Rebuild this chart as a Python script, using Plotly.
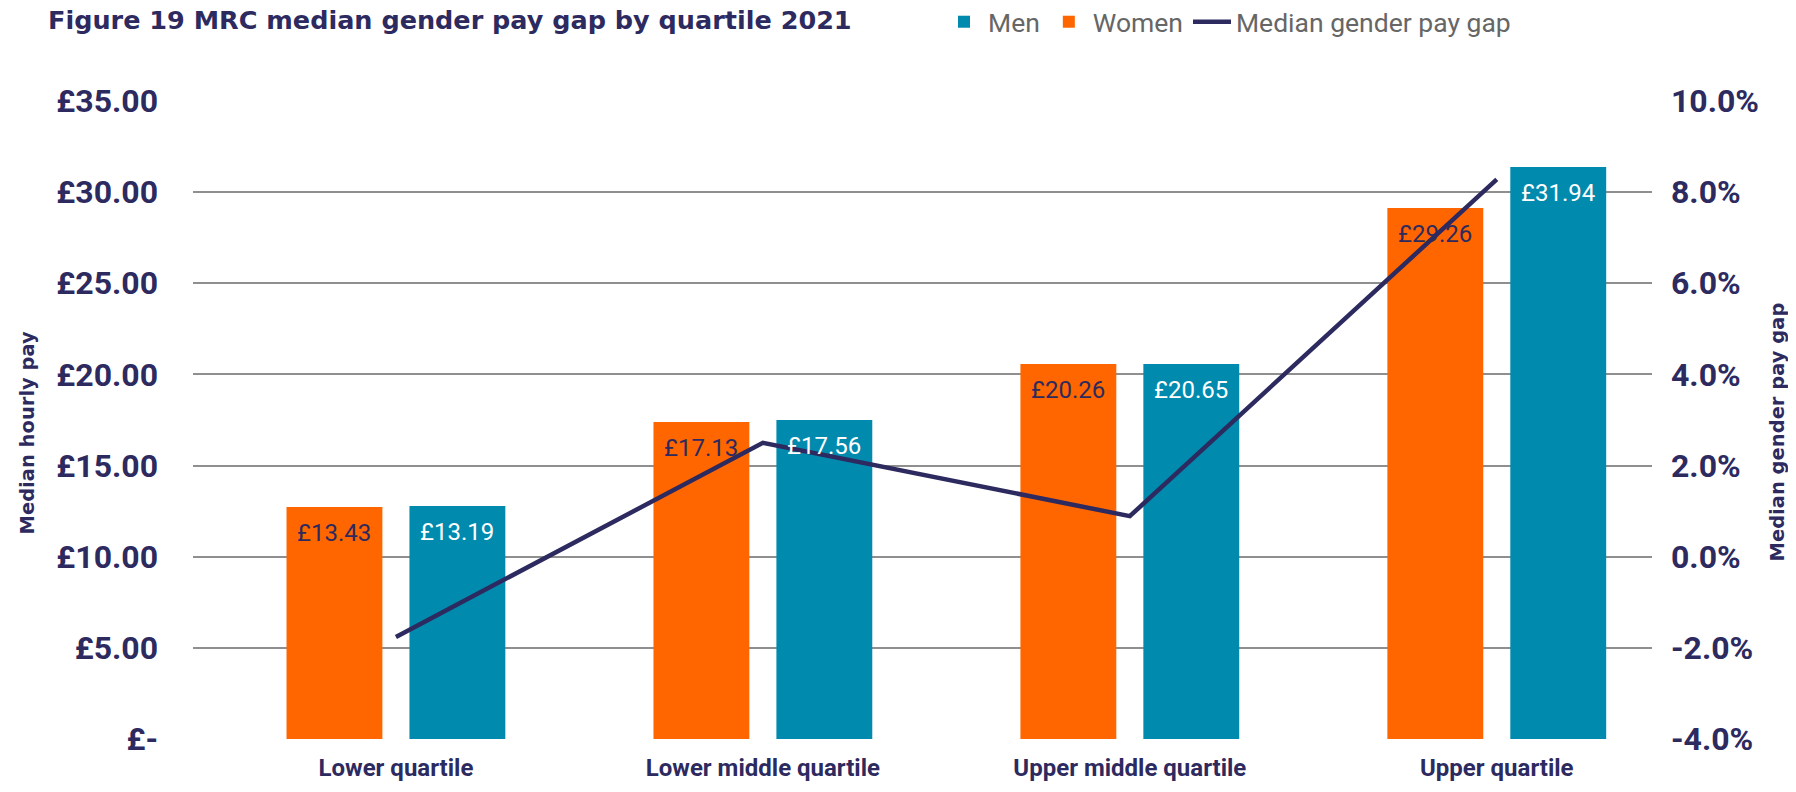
import plotly.graph_objects as go

# ---------------- data ----------------
categories = ["Lower quartile", "Lower middle quartile", "Upper middle quartile", "Upper quartile"]
women_pay = [12.73, 17.39, 20.57, 29.13]   # bar heights as drawn
men_pay = [12.78, 17.50, 20.57, 31.38]
women_labels = ["£13.43", "£17.13", "£20.26", "£29.26"]
men_labels = ["£13.19", "£17.56", "£20.65", "£31.94"]
pay_gap_pct = [-1.76, 2.50, 0.89, 8.28]

pay_ticks = [0, 5, 10, 15, 20, 25, 30, 35]
pay_tick_text = ["£-", "£5.00", "£10.00", "£15.00", "£20.00", "£25.00", "£30.00", "£35.00"]
gap_ticks = [-4, -2, 0, 2, 4, 6, 8, 10]
gap_tick_text = ["-4.0%", "-2.0%", "0.0%", "2.0%", "4.0%", "6.0%", "8.0%", "10.0%"]

# ---------------- style ----------------
NAVY = "#2D2A5F"
ORANGE = "#FF6600"
TEAL = "#008AAE"
GRID = "#8F8F8F"
OFF = 8                      # page body margin
W, H = 1796 - 2 * OFF, 792 - 2 * OFF
ML = 193 - OFF
MR = W - (1652 - OFF)
MT = 101 - OFF
MB = H - (739 - OFF)

fig = go.Figure()
fig.add_trace(go.Bar(name="Women", x=categories, y=women_pay, marker=dict(color=ORANGE, line=dict(width=0)),
                     legendrank=2))
fig.add_trace(go.Bar(name="Men", x=categories, y=men_pay, marker=dict(color=TEAL, line=dict(width=0)),
                     legendrank=1))
fig.add_trace(go.Scatter(name="Median gender pay gap", x=categories, y=pay_gap_pct, yaxis="y2",
                         mode="lines", line=dict(color=NAVY, width=4.5), legendrank=3))

label_font = "Roboto"
for cat, v, lab in zip(categories, women_pay, women_labels):
    fig.add_annotation(x=cat, y=v, xref="x", yref="y", text=lab, showarrow=False,
                       xshift=-61.5, yanchor="top", yshift=-10,
                       font=dict(family=label_font, size=24, color=NAVY))
for cat, v, lab in zip(categories, men_pay, men_labels):
    fig.add_annotation(x=cat, y=v, xref="x", yref="y", text=lab, showarrow=False,
                       xshift=61.5, yanchor="top", yshift=-10,
                       font=dict(family=label_font, size=24, color="white"))

pw = W - ML - MR
ph = H - MT - MB
title_y = (H - MB - (432.5 - OFF)) / ph
fig.add_annotation(text="Median hourly pay", xref="paper", yref="paper",
                   x=(27 - OFF - ML) / pw, y=title_y, textangle=-90, showarrow=False,
                   xanchor="center", yanchor="middle",
                   font=dict(family="DejaVu Sans", size=19.5, weight=700, color=NAVY))
fig.add_annotation(text="Median gender pay gap", xref="paper", yref="paper",
                   x=(1777 - OFF - ML) / pw, y=title_y, textangle=-90, showarrow=False,
                   xanchor="center", yanchor="middle",
                   font=dict(family="DejaVu Sans", size=19.5, weight=700, color=NAVY))

tick_font = dict(family="Roboto", size=32, weight=700, color=NAVY)

fig.update_layout(
    width=W, height=H,
    margin=dict(l=ML, r=MR, t=MT, b=MB, autoexpand=False),
    paper_bgcolor="white", plot_bgcolor="white",
    barmode="group", bargap=0.33, bargroupgap=0.22,
    title=dict(text="Figure 19 MRC median gender pay gap by quartile 2021",
               x=(48 - OFF) / W, xanchor="left", xref="container",
               y=1 - 3 / H, yanchor="top", yref="container",
               font=dict(family="DejaVu Sans", size=25.5, weight=700, color=NAVY)),
    legend=dict(orientation="h", xref="container", yref="container",
                x=(940 - OFF) / W, xanchor="left", y=1 - (22 - OFF) / H, yanchor="middle",
                font=dict(family="Roboto", size=26.5, color="#666666"),
                itemwidth=38,
                bgcolor="rgba(0,0,0,0)", traceorder="normal"),
    xaxis=dict(range=[-0.553, 3.423], showgrid=False, zeroline=False, showline=False, ticks="",
               tickfont=dict(family="Roboto", size=24, weight=700, color=NAVY), ticklabelstandoff=12),
    yaxis=dict(range=[0, 35], tickvals=pay_ticks, ticktext=pay_tick_text, showgrid=True,
               gridcolor=GRID, gridwidth=1.5, zeroline=False, showline=False, ticks="",
               tickfont=tick_font, ticklabelstandoff=34),
    yaxis2=dict(overlaying="y", side="right", range=[-4, 10], tickvals=gap_ticks, ticktext=gap_tick_text,
                showgrid=False, zeroline=False, showline=False, ticks="",
                tickfont=tick_font, ticklabelstandoff=18),
    hovermode=False,
)

fig.write_html("out.html")
